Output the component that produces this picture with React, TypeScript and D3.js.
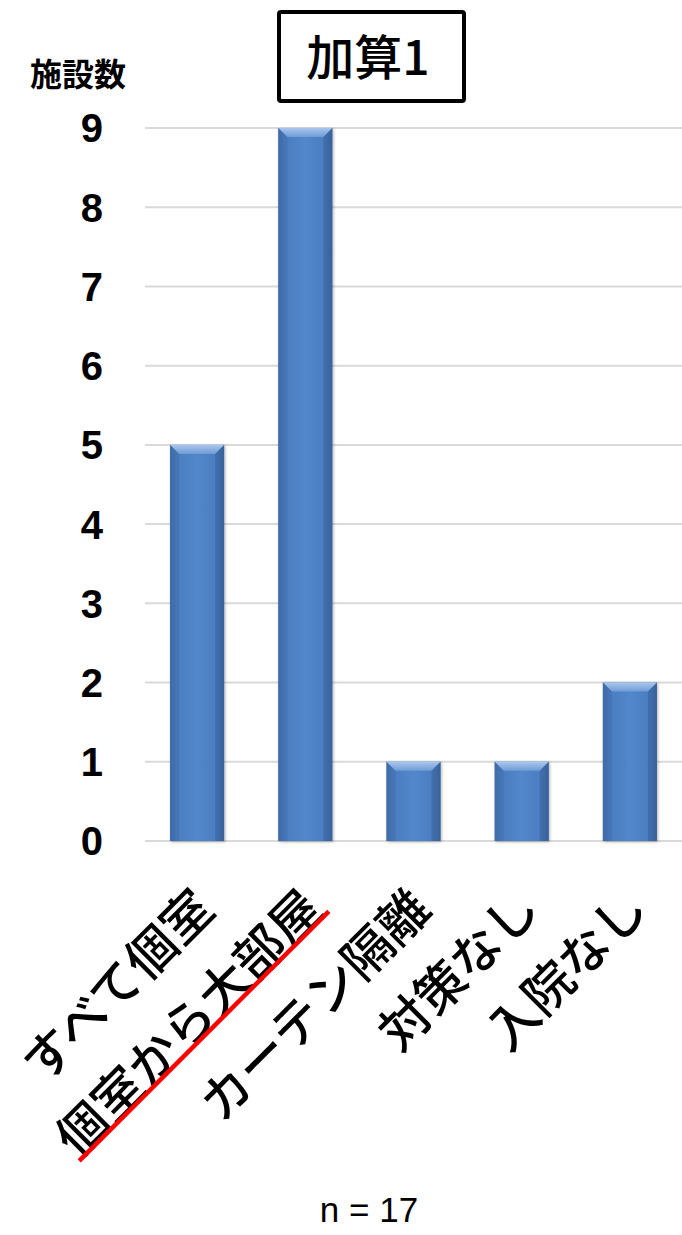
import React from "react";
import * as d3 from "d3";

const categories = ["すべて個室", "個室から大部屋", "カーテン隔離", "対策なし", "入院なし"];
const values = [5, 9, 1, 1, 2];
const yTicks = [0, 1, 2, 3, 4, 5, 6, 7, 8, 9];
const titleText = "加算1";
const yAxisTitle = "施設数";
const footnote = "n = 17";
const underlinedCategory = "個室から大部屋";

const W = 682;
const H = 1235;
const left = 143;
const right = 684;
const top = 128;
const bottom = 841;

export default function App() {
  const x = d3.scaleBand<string>().domain(categories).range([left, right]).paddingInner(0.5).paddingOuter(0.25);
  const y = d3.scaleLinear().domain([0, 9]).range([bottom, top]);
  const bw = x.bandwidth();
  const latin = "'Liberation Sans', Arial, sans-serif";
  const jp = "'Noto Sans CJK JP', sans-serif";
  const labelSize = 50;
  return (
    <svg width={W} height={H} style={{ position: "absolute", left: 0, top: 0, background: "#fff" }}>
      <defs>
        <linearGradient id="barg" x1="0" x2="1" y1="0" y2="0">
          <stop offset="0" stopColor="#3d6aa6" />
          <stop offset="0.12" stopColor="#4a7dbf" />
          <stop offset="0.5" stopColor="#5287cb" />
          <stop offset="0.88" stopColor="#4a7dbf" />
          <stop offset="1" stopColor="#3a659f" />
        </linearGradient>
        <linearGradient id="bevel" x1="0" x2="0" y1="0" y2="1">
          <stop offset="0" stopColor="#a9c6ec" />
          <stop offset="1" stopColor="#6f9bd6" />
        </linearGradient>
        <filter id="sh" x="-20%" y="-5%" width="140%" height="110%">
          <feDropShadow dx="1" dy="1" stdDeviation="1.5" floodColor="#000" floodOpacity="0.3" />
        </filter>
      </defs>
      {yTicks.map((t) => (
        <line key={"g" + t} x1={145} x2={682} y1={y(t)} y2={y(t)} stroke="#d9d9d9" strokeWidth={2} />
      ))}
      {yTicks.map((t) => (
        <text key={"t" + t} x={103} y={y(t)} dy="0.36em" textAnchor="end" fontFamily={latin} fontWeight="bold" fontSize={40} fill="#000">
          {t}
        </text>
      ))}
      {categories.map((c, i) => {
        const x0 = x(c)!;
        const y0 = y(values[i]);
        const h = bottom - y0;
        const bv = 9;
        return (
          <g key={c} filter="url(#sh)">
            <rect x={x0} y={y0} width={bw} height={h} fill="url(#barg)" />
            <path d={`M${x0},${y0}L${x0 + bw},${y0}L${x0 + bw - bv},${y0 + bv}L${x0 + bv},${y0 + bv}Z`} fill="url(#bevel)" />
            <path d={`M${x0},${y0}L${x0 + bv},${y0 + bv}L${x0 + bv},${bottom}L${x0},${bottom}Z`} fill="#3f6ba8" opacity={0.5} />
            <path d={`M${x0 + bw},${y0}L${x0 + bw - bv},${y0 + bv}L${x0 + bw - bv},${bottom}L${x0 + bw},${bottom}Z`} fill="#345d96" opacity={0.5} />
          </g>
        );
      })}
      {categories.map((c) => {
        const cx = x(c)! + bw / 2 + 20;
        const cy = 912;
        return (
          <g key={"l" + c} transform={`translate(${cx},${cy}) rotate(-45)`}>
            <text x={0} y={0} textAnchor="end" fontFamily={jp} fontWeight={500} fontSize={labelSize} fill="#000">
              {c}
            </text>
            {c === underlinedCategory ? (
              <line x1={-c.length * labelSize} y1={2} x2={3} y2={2} stroke="#ff0000" strokeWidth={4.5} />
            ) : null}
          </g>
        );
      })}
      <rect x={279} y={12} width={185} height={89} fill="#fff" stroke="#000" strokeWidth={4} rx={2} />
      <text x={368} y={58} dy="0.36em" textAnchor="middle" fontFamily={jp} fontWeight={500} fontSize={48} fill="#000">
        {titleText}
      </text>
      <text x={78} y={74} dy="0.36em" textAnchor="middle" fontFamily={jp} fontWeight="bold" fontSize={32} fill="#000">
        {yAxisTitle}
      </text>
      <text x={369} y={1222} textAnchor="middle" fontFamily={latin} fontSize={35} fill="#000">
        {footnote}
      </text>
    </svg>
  );
}
